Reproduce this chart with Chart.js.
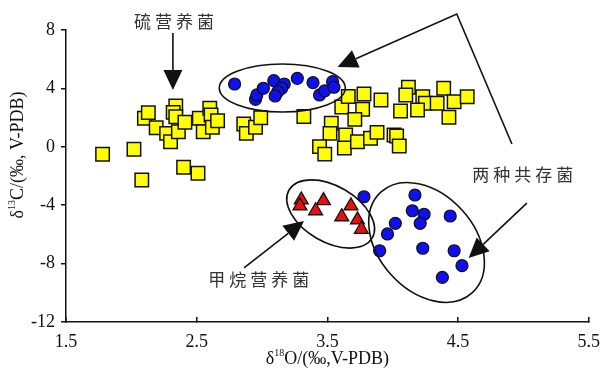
<!DOCTYPE html>
<html>
<head>
<meta charset="utf-8">
<script src="https://cdn.jsdelivr.net/npm/chart.js@4"></script>
<style>
  html, body { margin: 0; padding: 0; background: #fff; }
  #wrap { width: 614px; height: 374px; }
</style>
</head>
<body>
<div id="wrap"><canvas id="chart"></canvas></div>
<script>
// x = δ18O, y = δ13C (‰, V-PDB)
const sulfurX = [1.78, 2.02, 2.08, 2.40, 2.51, 2.10, 2.13, 2.19, 2.27, 2.30, 2.34, 2.32, 2.34, 2.36,
  2.41, 2.52, 2.55, 2.60, 2.61, 2.62, 2.66, 2.86, 2.88, 2.95, 2.99, 3.32, 3.61, 3.66, 3.53, 3.52,
  3.64, 3.44, 3.48, 3.63, 3.78, 3.91, 3.77, 3.71, 3.73, 3.83, 3.88, 4.01, 4.03, 4.05, 4.12, 4.10,
  4.23, 4.25, 4.19, 4.06, 4.34, 4.39, 4.47, 4.57, 4.43];
const sulfurY = [-0.51, -0.17, -2.27, -1.40, -1.81, 1.95, 2.34, 1.31, 0.92, 0.35, 2.79, 2.36, 2.06, 1.03,
  1.68, 1.95, 1.03, 2.64, 2.18, 1.34, 1.79, 1.56, 0.92, 1.34, 1.99, 2.08, 2.73, 3.45, 1.61, 0.92,
  0.81, 0.01, -0.50, -0.08, 3.62, 3.21, 2.57, 1.88, 0.35, 0.58, 0.99, 0.81, 0.74, 0.05, 4.08, 3.55,
  3.43, 2.98, 2.52, 2.45, 2.98, 4.01, 3.09, 3.43, 2.02];

const methaneX = [3.30, 3.29, 3.47, 3.41, 3.68, 3.61, 3.73, 3.76];
const methaneY = [-3.64, -4.05, -3.69, -4.38, -4.05, -4.79, -5.01, -5.65];

const bothX = [2.79, 2.95, 2.96, 3.01, 3.09, 3.17, 3.15, 3.12, 3.10, 3.27, 3.39, 3.44, 3.48, 3.54, 3.55,
  3.78, 4.17, 4.15, 4.24, 4.21, 4.44, 4.02, 3.96, 3.90, 4.23, 4.47, 4.53, 4.38];
const bothY = [4.30, 3.25, 3.55, 4.01, 4.53, 4.30, 4.01, 3.77, 3.48, 4.69, 4.39, 3.55, 3.84, 4.46, 4.08,
  -3.42, -3.30, -4.38, -4.62, -5.24, -4.74, -5.24, -5.97, -7.12, -6.95, -7.12, -8.14, -8.94];

const xTicks = [1.5, 2.5, 3.5, 4.5, 5.5];
const yTicks = [-12, -8, -4, 0, 4, 8];

// annotation layer: centres in data units, radii in pixels
const ellipses = [
  { x: 3.155, y: 4.03, rx: 63, ry: 24, rot: 0 },
  { x: 3.525, y: -4.60, rx: 48, ry: 28, rot: 30 },
  { x: 4.259, y: -6.55, rx: 68, ry: 48, rot: 48 }
];
const arrows = [
  [[2.318, 7.79], [2.318, 3.89]],
  [[4.912, 0.19], [4.490, 9.10], [3.578, 5.47]],
  [[5.026, -3.86], [4.581, -7.62]],
  [[2.862, -8.30], [3.321, -5.08]]
];
const groupLabels = [
  { text: "硫营养菌", x: 2.326, y: 8.55 },
  { text: "两种共存菌", x: 4.995, y: -1.93 },
  { text: "甲烷营养菌", x: 2.974, y: -9.12 }
];

function toPoints(xs, ys) {
  return xs.map((v, i) => ({ x: v, y: ys[i] }));
}

function drawArrow(ctx, pts) {
  const n = pts.length;
  const [tx, ty] = pts[n - 1];
  const [bx, by] = pts[n - 2];
  const ang = Math.atan2(ty - by, tx - bx);
  const headLen = 20, headW = 9.5;
  const baseX = tx - headLen * Math.cos(ang);
  const baseY = ty - headLen * Math.sin(ang);
  ctx.beginPath();
  ctx.moveTo(pts[0][0], pts[0][1]);
  for (let i = 1; i < n - 1; i++) ctx.lineTo(pts[i][0], pts[i][1]);
  ctx.lineTo(baseX, baseY);
  ctx.stroke();
  ctx.beginPath();
  ctx.moveTo(tx, ty);
  ctx.lineTo(baseX + headW * Math.sin(ang), baseY - headW * Math.cos(ang));
  ctx.lineTo(baseX - headW * Math.sin(ang), baseY + headW * Math.cos(ang));
  ctx.closePath();
  ctx.fill();
}

// text with a raised small part, centred on (cx, cy)
function drawSupText(ctx, parts, cx, cy) {
  let total = 0;
  parts.forEach((p) => {
    ctx.font = p.size + "px 'Liberation Serif'";
    p.w = ctx.measureText(p.t).width;
    total += p.w;
  });
  let x = cx - total / 2;
  ctx.textAlign = "left";
  ctx.textBaseline = "middle";
  parts.forEach((p) => {
    ctx.font = p.size + "px 'Liberation Serif'";
    ctx.fillText(p.t, x, cy + p.dy);
    x += p.w;
  });
}

const annotate = {
  id: "annotate",
  afterDraw(chart) {
    const { ctx } = chart;
    const sx = chart.scales.x, sy = chart.scales.y;
    const px = (v) => sx.getPixelForValue(v);
    const py = (v) => sy.getPixelForValue(v);
    ctx.save();
    ctx.strokeStyle = "#111";
    ctx.fillStyle = "#111";
    ctx.lineWidth = 1.6;

    ellipses.forEach((e) => {
      ctx.beginPath();
      ctx.ellipse(px(e.x), py(e.y), e.rx, e.ry, (e.rot * Math.PI) / 180, 0, 2 * Math.PI);
      ctx.stroke();
    });

    arrows.forEach((a) => drawArrow(ctx, a.map((p) => [px(p[0]), py(p[1])])));

    ctx.fillStyle = "#333";
    ctx.font = "17px 'Noto Sans CJK SC'";
    ctx.letterSpacing = "4px";
    ctx.textAlign = "center";
    ctx.textBaseline = "middle";
    groupLabels.forEach((l) => ctx.fillText(l.text, px(l.x) + 2, py(l.y)));
    ctx.letterSpacing = "0px";

    // axis titles
    ctx.fillStyle = "#111";
    drawSupText(ctx, [
      { t: "δ", size: 18, dy: 0 },
      { t: "18", size: 10, dy: -6 },
      { t: "O/(‰,V-PDB)", size: 18, dy: 0 }
    ], (sx.left + sx.right) / 2, 359);

    ctx.translate(18, 155);
    ctx.rotate(-Math.PI / 2);
    drawSupText(ctx, [
      { t: "δ", size: 18, dy: 0 },
      { t: "13", size: 10, dy: -6 },
      { t: "C/(‰, V-PDB)", size: 18, dy: 0 }
    ], 0, 0);
    ctx.restore();
  }
};

const tickFont = { family: "'Liberation Serif'", size: 18 };

new Chart(document.getElementById("chart"), {
  type: "scatter",
  data: {
    datasets: [
      {
        label: "硫营养菌",
        data: toPoints(sulfurX, sulfurY),
        pointStyle: "rect",
        pointRadius: 9.5,
        backgroundColor: "#ffff00",
        borderColor: "#111",
        borderWidth: 1.5
      },
      {
        label: "甲烷营养菌",
        data: toPoints(methaneX, methaneY),
        pointStyle: "triangle",
        pointRadius: 8,
        backgroundColor: "#e8100c",
        borderColor: "#111",
        borderWidth: 1.3
      },
      {
        label: "两种共存菌",
        data: toPoints(bothX, bothY),
        pointStyle: "circle",
        pointRadius: 6,
        backgroundColor: "#1010ee",
        borderColor: "#111",
        borderWidth: 1.2
      }
    ]
  },
  options: {
    responsive: true,
    maintainAspectRatio: false,
    animation: false,
    layout: { padding: { top: 30, right: 16, left: 0, bottom: 0 } },
    plugins: {
      legend: { display: false },
      tooltip: { enabled: false }
    },
    scales: {
      x: {
        type: "linear",
        min: 1.5,
        max: 5.5,
        afterBuildTicks: (scale) => { scale.ticks = xTicks.map((v) => ({ value: v })); },
        afterFit: (scale) => { scale.height = 52; },
        ticks: { font: tickFont, color: "#111", padding: 14, callback: (v) => v.toFixed(1) },
        grid: { drawOnChartArea: false, color: "#111", lineWidth: 1.5, tickLength: -5 },
        border: { color: "#111", width: 1.5 }
      },
      y: {
        type: "linear",
        min: -12,
        max: 8,
        afterBuildTicks: (scale) => { scale.ticks = yTicks.map((v) => ({ value: v })); },
        afterFit: (scale) => { scale.width = 66; },
        ticks: { font: tickFont, color: "#111", padding: 6 },
        grid: { drawOnChartArea: false, color: "#111", lineWidth: 1.5, tickLength: 5 },
        border: { color: "#111", width: 1.5 }
      }
    }
  },
  plugins: [annotate]
});
</script>
</body>
</html>
